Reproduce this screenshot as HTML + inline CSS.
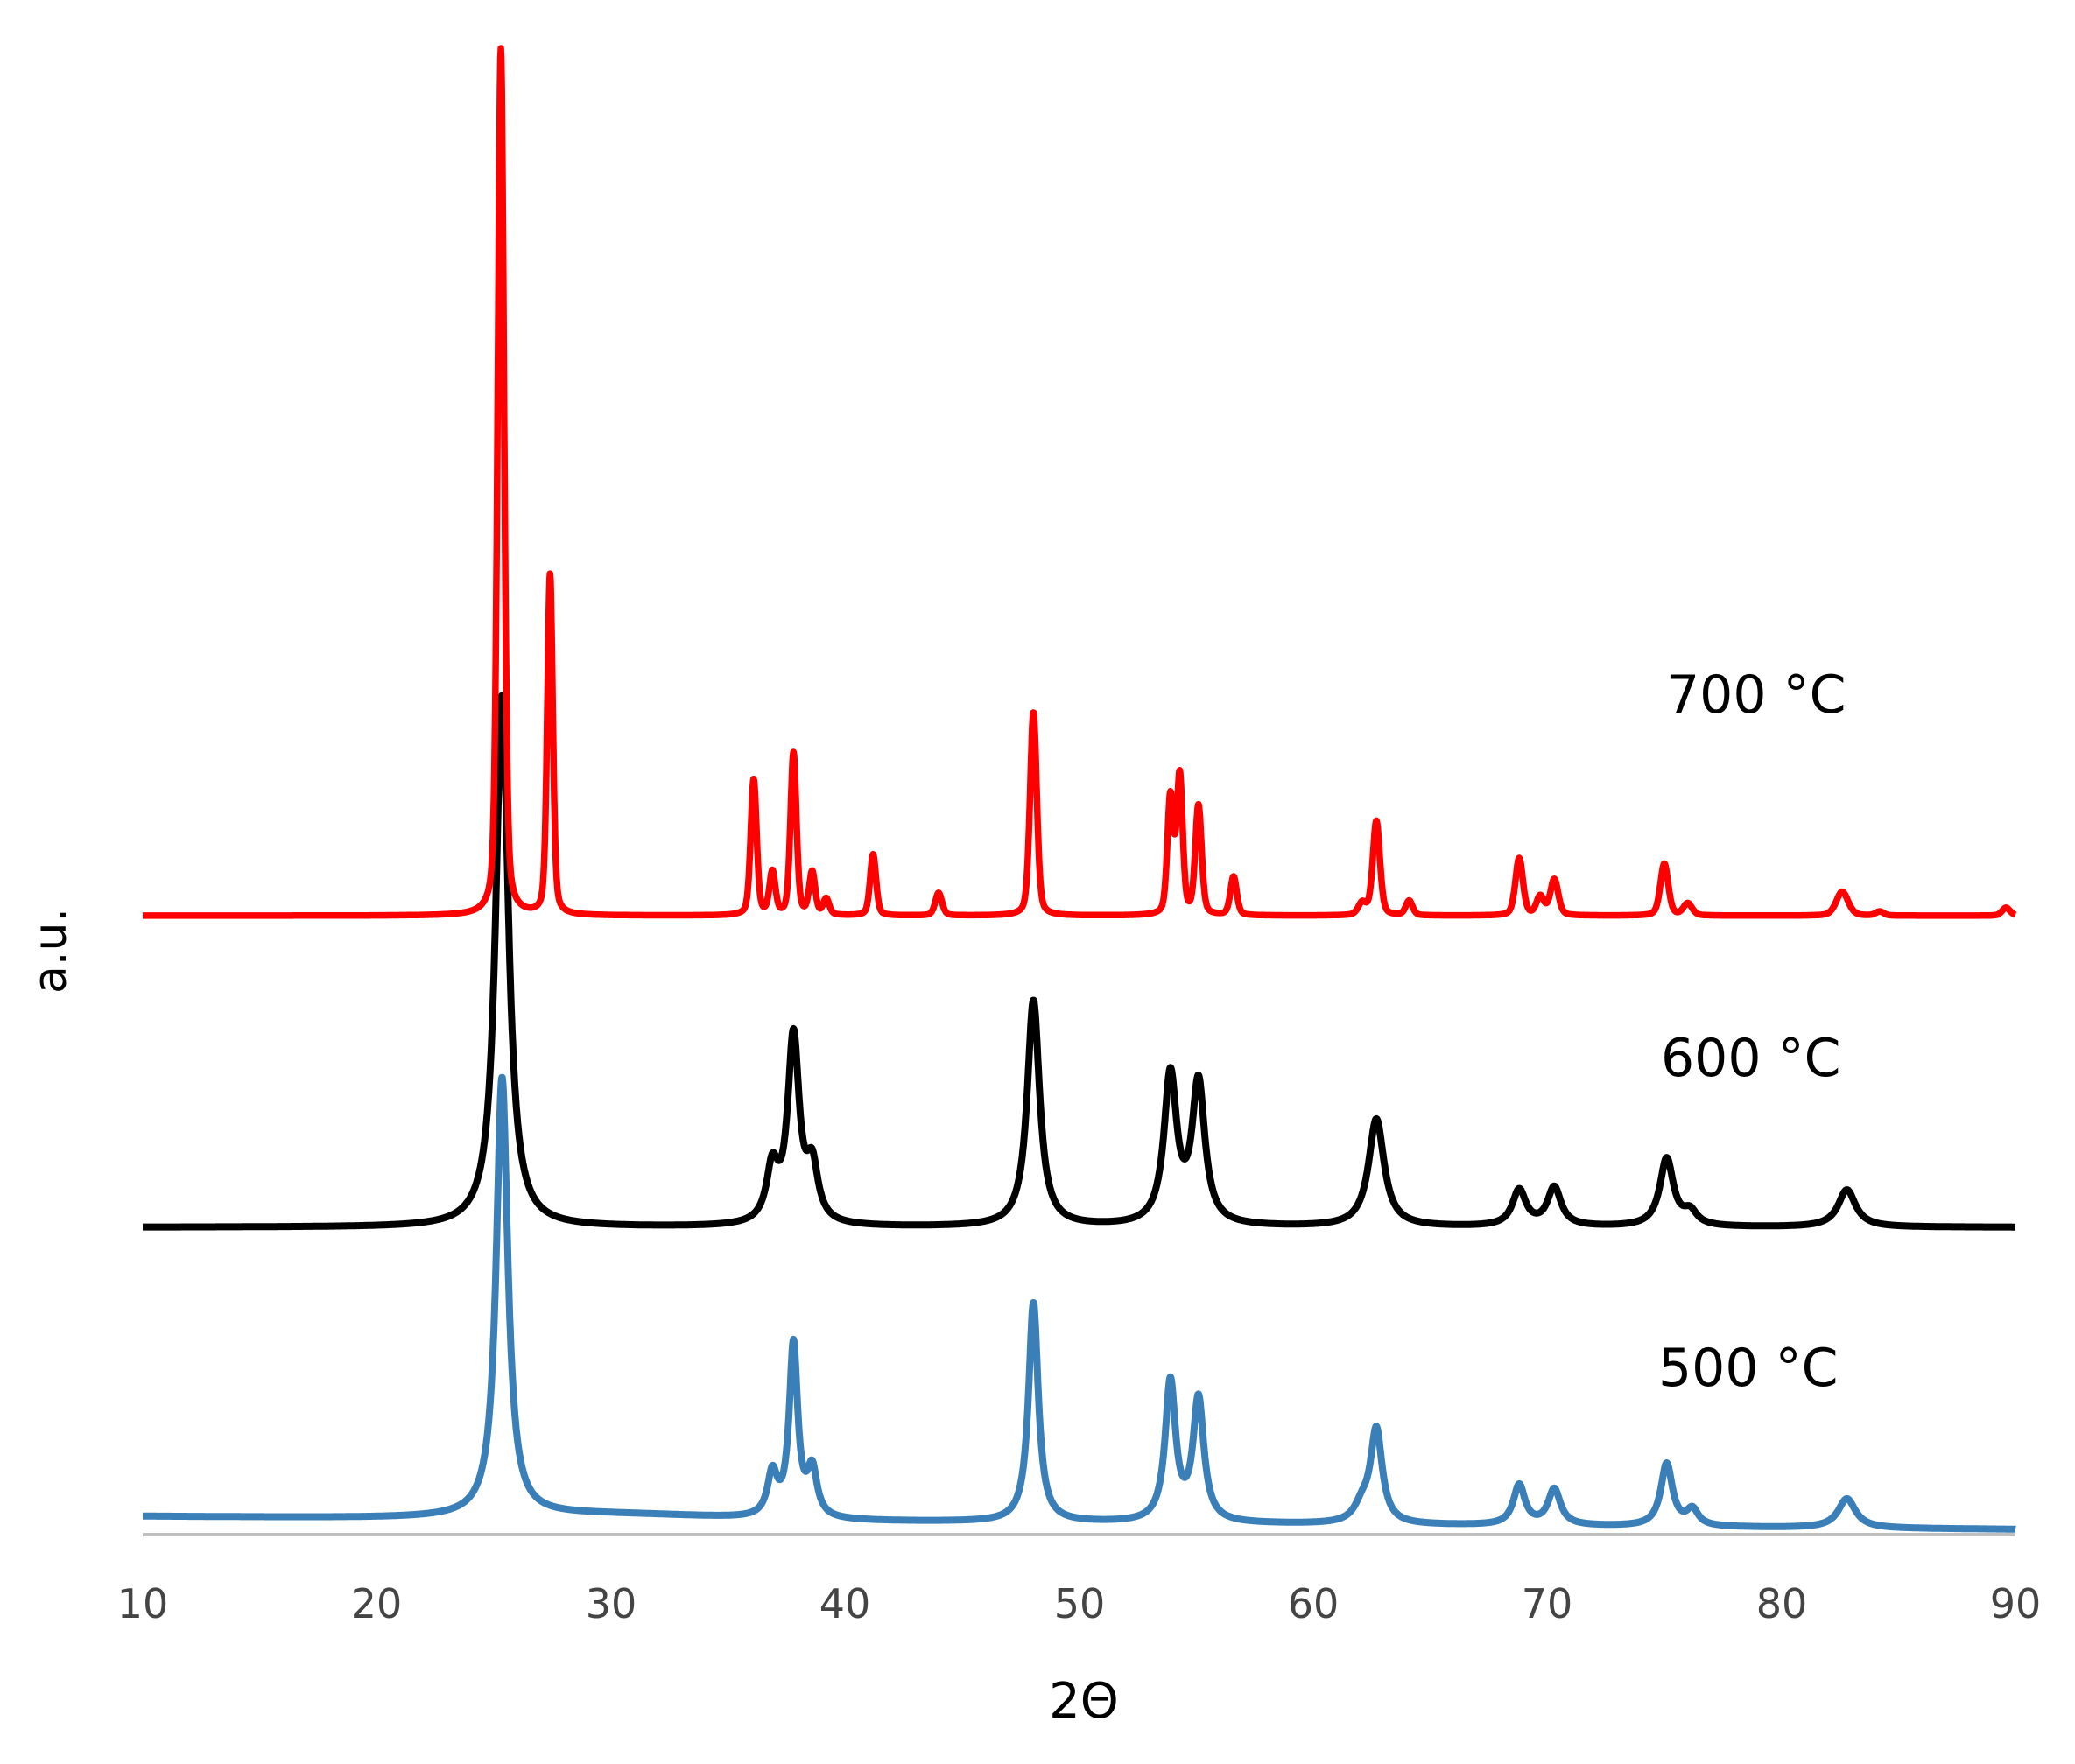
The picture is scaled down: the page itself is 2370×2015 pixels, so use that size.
<!DOCTYPE html>
<html><head><meta charset="utf-8"><style>
html,body{margin:0;padding:0;background:#fff;}
svg{display:block;}
text{font-family:"DejaVu Sans","Liberation Sans",sans-serif;}
</style></head><body>
<svg id="s" width="2370" height="2015" xmlns="http://www.w3.org/2000/svg">
<line x1="163" y1="1753" x2="2302" y2="1753" stroke="#bfbfbf" stroke-width="4"/>
<g font-size="46" fill="#444" text-anchor="middle">
<text x="163" y="1848">10</text><text x="430" y="1848">20</text><text x="698" y="1848">30</text>
<text x="965" y="1848">40</text><text x="1233" y="1848">50</text><text x="1500" y="1848">60</text>
<text x="1767" y="1848">70</text><text x="2035" y="1848">80</text><text x="2302" y="1848">90</text>
</g>
<text x="1238" y="1962" font-size="56" text-anchor="middle" fill="#000">2Θ</text>
<text transform="translate(75,1086) rotate(-90)" font-size="52" text-anchor="middle" fill="#000">a.u.</text>
<text x="1903" y="814" font-size="60" fill="#000">700 °C</text>
<text x="1897" y="1229" font-size="60" fill="#000">600 °C</text>
<text x="1894" y="1583" font-size="60" fill="#000">500 °C</text>
<path id="pb" fill="none" stroke="#3a7fb8" stroke-width="8" stroke-linejoin="round"/>
<path id="pk" fill="none" stroke="#000" stroke-width="8" stroke-linejoin="round"/>
<path id="pr" fill="none" stroke="#ff0000" stroke-width="7.5" stroke-linejoin="round"/>
</svg>
<script>
var S=1.519;
function X(t){return 163+(t-10)*2139/80;}
function build(id,base0,base1,peaks,w,eta,extra){
 var d="";
 for(var t=10;t<=90.001;t+=0.02){
  var b=base0+(base1-base0)*(t-10)/80;
  var y=0;
  for(var i=0;i<peaks.length;i++){var p=peaks[i];var ww=p[2]||w;var u=(t-p[0])/ww;
    y+=p[1]*S*(eta/(1+u*u)+(1-eta)*Math.exp(-0.693*u*u));}
  if(extra)y+=extra(t);
  d+=(d?"L":"M")+X(t).toFixed(1)+" "+(b-y).toFixed(1);
 }
 document.getElementById(id).setAttribute("d",d);
}
build("pr",1046,1046,[[25.3,652,0.16],[27.4,256,0.14],[36.1,102,0.15],[36.9,32,0.15],[37.8,122,0.15],[38.6,32,0.15],[39.2,12,0.15],[41.2,46,0.15],[44.0,17,0.17],[48.05,153,0.17],[53.9,88,0.15],[54.3,104,0.15],[55.1,82,0.16],[56.6,29,0.16],[62.1,9,0.2],[62.7,71,0.18],[64.1,11,0.17],[68.8,43,0.19],[69.7,14,0.19],[70.3,27,0.2],[75.0,39,0.2],[76.0,9,0.22],[82.6,18,0.3],[84.2,3,0.2],[89.6,6,0.2]],0.17,0.35);
build("pk",1402,1402,[[25.35,400,0.33],[36.9,40,0.3],[37.8,140,0.3],[38.6,40,0.3],[48.05,170,0.32],[53.9,112,0.33],[55.1,106,0.33],[62.7,81,0.4],[68.8,27,0.35],[70.3,29,0.35],[75.1,51,0.35],[76.1,10,0.35],[82.8,28,0.45]],0.33,1);
build("pb",1732,1747,[[25.35,330,0.3],[36.9,32,0.25],[37.8,130,0.22],[38.6,35,0.25],[48.05,165,0.25],[53.9,105,0.27],[55.1,92,0.28],[62.1,12,0.4],[62.7,70,0.3],[68.8,30,0.3],[70.3,27,0.32],[75.1,47,0.3],[76.2,12,0.3],[82.8,22,0.45]],0.3,1,function(t){return 6*Math.exp(-Math.pow((t-30)/6,2));});
</script>
</body></html>
